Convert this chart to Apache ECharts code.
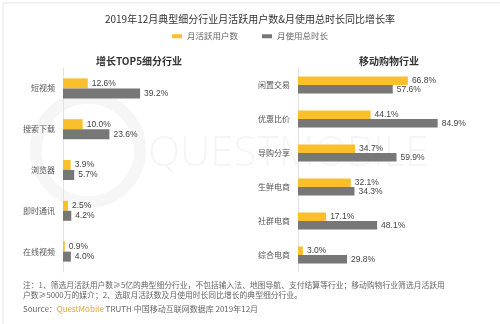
<!DOCTYPE html>
<html>
<head>
<meta charset="utf-8">
<script src="https://cdn.jsdelivr.net/npm/echarts@6/dist/echarts.min.js"></script>
<style>
  html, body { margin: 0; padding: 0; background: #fff; }
  #chart { width: 500px; height: 324px; }
</style>
</head>
<body>
<div id="chart"></div>
<script>
// Year-on-year growth rates, Dec 2019
const seriesNames = ['月活跃用户数', '月使用总时长'];

// Top-5 growth segments
const topCategories = ['短视频', '搜索下载', '浏览器', '即时通讯', '在线视频'];
const topMau = [12.6, 10.0, 3.9, 2.5, 0.9];
const topTime = [39.2, 23.6, 5.7, 4.2, 4.0];

// Mobile shopping segments
const shopCategories = ['闲置交易', '优惠比价', '导购分享', '生鲜电商', '社群电商', '综合电商'];
const shopMau = [66.8, 44.1, 34.7, 32.1, 17.1, 3.0];
const shopTime = [57.6, 84.9, 59.9, 34.3, 48.1, 29.8];

const YELLOW = '#F9BF2C';
const GREY = '#777777';
const FONT = '"Noto Sans CJK SC", "Noto Sans", sans-serif';

const chart = echarts.init(document.getElementById('chart'), null, { renderer: 'canvas' });

function pctLabel() {
  return {
    show: true,
    position: 'right',
    distance: 4,
    color: '#444',
    fontSize: 8.5,
    fontFamily: 'Liberation Sans, Arial, sans-serif',
    formatter: p => p.value.toFixed(1) + '%'
  };
}

function yAxisFor(gridIndex, cats) {
  return {
    type: 'category',
    gridIndex,
    data: cats,
    inverse: true,
    axisLine: { show: true, lineStyle: { color: '#e2e2e2', width: 1 } },
    axisTick: { show: false },
    axisLabel: { color: '#555', fontSize: 8, fontFamily: FONT, margin: 8 },
    splitLine: { show: false }
  };
}

function xAxisFor(gridIndex, max) {
  return {
    type: 'value',
    gridIndex,
    min: 0,
    max,
    show: false
  };
}

chart.setOption({
  animation: false,
  backgroundColor: '#fff',
  textStyle: { fontFamily: FONT },
  title: [
    {
      text: '2019年12月典型细分行业月活跃用户数&月使用总时长同比增长率',
      left: 'center', top: 9,
      textStyle: { fontSize: 10, fontWeight: 'normal', color: '#333', fontFamily: FONT }
    },
    {
      text: '增长TOP5细分行业',
      left: 134, top: 51, textAlign: 'center',
      textStyle: { fontSize: 10, fontWeight: 'bold', color: '#333', fontFamily: FONT }
    },
    {
      text: '移动购物行业',
      left: 384, top: 51, textAlign: 'center',
      textStyle: { fontSize: 10, fontWeight: 'bold', color: '#333', fontFamily: FONT }
    }
  ],
  legend: {
    data: seriesNames,
    top: 27,
    left: 'center',
    itemWidth: 10,
    itemHeight: 4,
    itemGap: 24,
    icon: 'rect',
    textStyle: { fontSize: 8.5, color: '#666', fontFamily: FONT }
  },
  grid: [
    { left: 63, top: 68, width: 177, height: 204 },
    { left: 298, top: 68, width: 164.5, height: 204 }
  ],
  xAxis: [xAxisFor(0, 90), xAxisFor(1, 100)],
  yAxis: [yAxisFor(0, topCategories), yAxisFor(1, shopCategories)],
  series: [
    {
      name: seriesNames[0], type: 'bar', xAxisIndex: 0, yAxisIndex: 0,
      data: topMau, barWidth: 10, barGap: '0%',
      itemStyle: { color: YELLOW }, label: pctLabel()
    },
    {
      name: seriesNames[1], type: 'bar', xAxisIndex: 0, yAxisIndex: 0,
      data: topTime, barWidth: 10, barGap: '0%',
      itemStyle: { color: GREY }, label: pctLabel()
    },
    {
      name: seriesNames[0], type: 'bar', xAxisIndex: 1, yAxisIndex: 1,
      data: shopMau, barWidth: 8.5, barGap: '0%',
      itemStyle: { color: YELLOW }, label: pctLabel()
    },
    {
      name: seriesNames[1], type: 'bar', xAxisIndex: 1, yAxisIndex: 1,
      data: shopTime, barWidth: 8.5, barGap: '0%',
      itemStyle: { color: GREY }, label: pctLabel()
    }
  ],
  graphic: [
    // faint frame
    {
      type: 'rect', left: 0.5, top: 0.5, z: -10,
      shape: { width: 498, height: 322 },
      style: { fill: 'none', stroke: '#e6e6e6', lineWidth: 1 }
    },
    // watermark
    {
      type: 'circle', z: -5, silent: true,
      shape: { cx: 88, cy: 150, r: 52 },
      style: { fill: 'none', stroke: 'rgba(0,0,0,0.035)', lineWidth: 12 }
    },
    {
      type: 'text', z: -5, silent: true, left: 148, top: 133,
      style: {
        text: 'QUESTMOBILE', fill: 'rgba(0,0,0,0.04)',
        font: '300 42px "Open Sans", sans-serif'
      }
    },
    // notes
    {
      type: 'text', left: 23, top: 280,
      style: {
        text: '注：1、筛选月活跃用户数≥5亿的典型细分行业，不包括输入法、地图导航、支付结算等行业；移动购物行业筛选月活跃用\n户数≥5000万的媒介；2、选取月活跃数及月使用时长同比增长的典型细分行业。',
        fill: '#666', font: '7.8px ' + FONT, lineHeight: 10
      }
    },
    {
      type: 'text', left: 23, top: 305,
      style: {
        text: '{g|Source：}{q|QuestMobile}{g| TRUTH 中国移动互联网数据库 2019年12月}',
        rich: {
          g: { fill: '#666', font: '8px ' + FONT },
          q: { fill: '#E0A530', font: '8px ' + FONT }
        }
      }
    }
  ]
});
</script>
</body>
</html>
